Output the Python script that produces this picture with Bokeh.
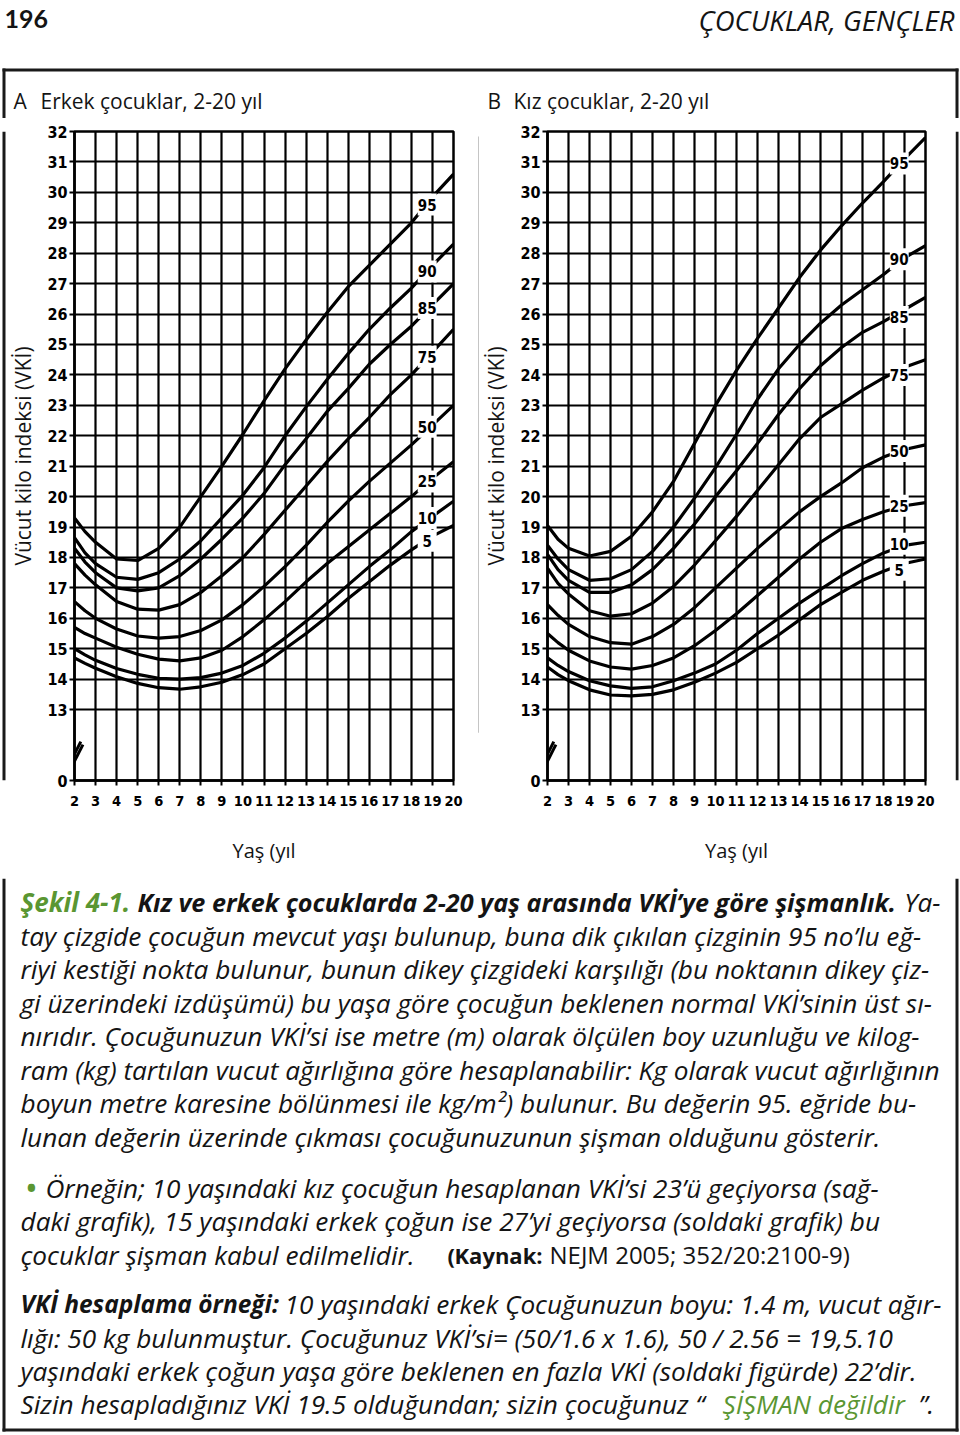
from bokeh.plotting import figure
from bokeh.models import Range1d, FixedTicker, CustomJSTickFormatter
from bokeh.layouts import column, row
from bokeh.embed import file_html
from bokeh.resources import INLINE
from bokeh.core.properties import value

# ---------------- data ----------------
ages = [2, 2.5, 3, 4, 5, 6, 7, 8, 9, 10, 11, 12, 13, 14, 15, 16, 17, 18, 19, 20]
percentiles = ["95", "90", "85", "75", "50", "25", "10", "5"]

boys_p95 = [19.3, 18.85, 18.5, 17.95, 17.9, 18.3, 19.0, 20.0, 21.0, 22.05, 23.15, 24.2, 25.15, 26.05, 26.9, 27.6, 28.3, 29.0, 29.85, 30.6]
boys_p90 = [18.65, 18.15, 17.8, 17.35, 17.28, 17.5, 17.95, 18.55, 19.3, 20.05, 20.95, 22.0, 22.95, 23.85, 24.7, 25.5, 26.2, 26.85, 27.6, 28.3]
boys_p85 = [18.3, 17.85, 17.5, 17.0, 16.9, 17.0, 17.4, 17.95, 18.6, 19.3, 20.1, 21.05, 21.9, 22.8, 23.55, 24.35, 25.0, 25.6, 26.3, 27.0]
boys_p75 = [17.8, 17.42, 17.1, 16.55, 16.3, 16.27, 16.45, 16.85, 17.4, 18.0, 18.75, 19.55, 20.35, 21.15, 21.9, 22.6, 23.35, 24.0, 24.75, 25.5]
boys_p50 = [16.55, 16.25, 16.0, 15.65, 15.42, 15.35, 15.4, 15.6, 15.95, 16.45, 17.05, 17.7, 18.4, 19.15, 19.85, 20.5, 21.1, 21.7, 22.35, 23.0]
boys_p25 = [15.7, 15.5, 15.35, 15.05, 14.82, 14.66, 14.6, 14.7, 14.95, 15.4, 15.95, 16.55, 17.2, 17.8, 18.35, 18.9, 19.45, 20.0, 20.6, 21.15]
boys_p10 = [15.0, 14.8, 14.62, 14.35, 14.16, 14.03, 14.0, 14.05, 14.2, 14.45, 14.85, 15.35, 15.9, 16.5, 17.1, 17.7, 18.25, 18.85, 19.35, 19.85]
boys_p5 = [14.7, 14.52, 14.36, 14.08, 13.86, 13.72, 13.67, 13.75, 13.9, 14.15, 14.5, 15.0, 15.5, 16.05, 16.65, 17.2, 17.75, 18.25, 18.7, 19.05]

girls_p95 = [19.05, 18.6, 18.3, 18.05, 18.2, 18.7, 19.5, 20.5, 21.75, 23.0, 24.15, 25.2, 26.2, 27.2, 28.1, 28.9, 29.65, 30.35, 31.1, 31.8]
girls_p90 = [18.4, 17.95, 17.6, 17.25, 17.3, 17.6, 18.2, 19.0, 19.95, 20.95, 22.05, 23.2, 24.2, 25.0, 25.7, 26.3, 26.8, 27.3, 27.85, 28.25]
girls_p85 = [18.1, 17.6, 17.25, 16.85, 16.85, 17.1, 17.6, 18.3, 19.1, 20.0, 20.85, 21.75, 22.7, 23.55, 24.3, 24.9, 25.4, 25.75, 26.15, 26.55]
girls_p75 = [17.65, 17.15, 16.8, 16.25, 16.07, 16.15, 16.5, 17.05, 17.75, 18.55, 19.35, 20.2, 21.05, 21.9, 22.6, 23.05, 23.5, 23.9, 24.25, 24.5]
girls_p50 = [16.45, 16.1, 15.8, 15.4, 15.2, 15.15, 15.4, 15.8, 16.35, 17.0, 17.65, 18.3, 18.9, 19.5, 20.0, 20.45, 20.95, 21.3, 21.55, 21.7]
girls_p25 = [15.5, 15.2, 14.95, 14.6, 14.4, 14.33, 14.45, 14.7, 15.1, 15.6, 16.15, 16.75, 17.35, 17.95, 18.5, 18.95, 19.25, 19.5, 19.7, 19.8]
girls_p10 = [14.7, 14.45, 14.25, 13.95, 13.78, 13.7, 13.75, 13.95, 14.2, 14.5, 14.95, 15.5, 16.0, 16.5, 16.95, 17.4, 17.8, 18.15, 18.4, 18.5]
girls_p5 = [14.4, 14.15, 13.95, 13.65, 13.48, 13.45, 13.5, 13.65, 13.9, 14.2, 14.55, 15.0, 15.45, 15.95, 16.45, 16.85, 17.25, 17.55, 17.8, 17.95]

boys_label_y = [29.6, 27.4, 26.2, 24.6, 22.3, 20.5, 19.3, 18.55]
girls_label_y = [30.95, 27.8, 25.9, 24.0, 21.5, 19.7, 18.45, 17.6]

x_ticks = list(range(2, 21))
y_ticks = list(range(13, 33))
Y_ZERO = 10.67          # where the broken axis shows "0"
LABEL_X = 18.75

title_a = ["A", "Erkek çocuklar, 2-20 yıl"]
title_b = ["B", "Kız çocuklar, 2-20 yıl"]
y_label = "Vücut kilo indeksi (VKİ)"
x_label = "Yaş (yıl"

# ---------------- styles ----------------
TICK_FONT = "'Liberation Sans Narrow', 'DejaVu Sans Condensed', 'Liberation Sans', sans-serif"
TEXT_FONT = "Open Sans"
INK = "#141414"
GREEN = "#5a9632"


def blank(width, height, xr, yr):
    p = figure(width=width, height=height, x_range=Range1d(*xr), y_range=Range1d(*yr),
               toolbar_location=None, output_backend="svg", min_border=0,
               x_axis_location=None, y_axis_location=None, title=None,
               outline_line_color=None, background_fill_color="white",
               border_fill_color="white")
    p.grid.visible = False
    return p


def make_chart(width, left, right, series, label_y):
    p = figure(width=width, height=760, x_range=Range1d(2, 20), y_range=Range1d(Y_ZERO, 32),
               toolbar_location=None, output_backend="svg", title=None,
               min_border_left=left, min_border_right=right,
               min_border_top=13, min_border_bottom=98,
               background_fill_color="white", border_fill_color="white",
               outline_line_color="black", outline_line_width=2.5, outline_line_alpha=1.0)
    p.xaxis.ticker = FixedTicker(ticks=x_ticks)
    p.yaxis.ticker = FixedTicker(ticks=[Y_ZERO] + y_ticks)
    p.yaxis.formatter = CustomJSTickFormatter(code="return tick < 12 ? '0' : tick.toFixed(0);")
    p.xgrid.ticker = FixedTicker(ticks=x_ticks[1:-1])
    p.ygrid.ticker = FixedTicker(ticks=y_ticks[:-1])
    p.grid.grid_line_color = "black"
    p.grid.grid_line_width = 2.2
    p.grid.grid_line_alpha = 1.0
    for ax in (p.xaxis[0], p.yaxis[0]):
        ax.axis_line_color = "black"
        ax.axis_line_width = 2.5
        ax.major_tick_line_color = "black"
        ax.major_tick_line_width = 2
        ax.major_tick_in = 0
        ax.major_tick_out = 5
        ax.minor_tick_line_color = None
        ax.major_label_text_font = TICK_FONT
        ax.major_label_text_font_style = "bold"
        ax.major_label_text_color = "black"
        ax.axis_label_text_font = TEXT_FONT
        ax.axis_label_text_font_style = "normal"
        ax.axis_label_text_color = INK
    p.xaxis.axis_label_text_font_size = "20px"
    p.yaxis.axis_label_text_font_size = "21px"
    p.xaxis.major_label_text_font_size = "14.5px"
    p.yaxis.major_label_text_font_size = "16px"
    p.xaxis.major_label_standoff = 10
    p.yaxis.major_label_standoff = 2
    p.xaxis.axis_label = x_label
    p.yaxis.axis_label = y_label
    p.xaxis.axis_label_standoff = 28
    p.yaxis.axis_label_standoff = 7

    for s in series:
        p.line(ages, s, line_color="black", line_width=3.2)

    # axis break mark
    p.segment(x0=[1.75, 1.85], y0=[11.2, 11.1], x1=[2.3, 2.4], y1=[11.95, 11.85],
              line_color="black", line_width=3)

    p.rect(x=[LABEL_X] * len(percentiles), y=label_y, width=0.9, height=22,
           height_units="screen", fill_color="white", line_color=None)
    p.text(x=[LABEL_X] * len(percentiles), y=label_y, text=percentiles,
           text_font=value(TICK_FONT), text_font_style="bold", text_font_size="15px",
           text_align="center", text_baseline="middle", text_color="black")
    return p


boys_series = [boys_p95, boys_p90, boys_p85, boys_p75, boys_p50, boys_p25, boys_p10, boys_p5]
girls_series = [girls_p95, girls_p90, girls_p85, girls_p75, girls_p50, girls_p25, girls_p10, girls_p5]

left_chart = make_chart(471, 67, 24, boys_series, boys_label_y)
right_chart = make_chart(476, 66, 30, girls_series, girls_label_y)

# ---------------- header ----------------
hdr = blank(960, 118, (0, 960), (118, 0))
hdr.text(x=[4], y=[18], text=["196"], text_font=value("Lato"), text_font_style="bold",
         text_font_size="25px", text_baseline="middle", text_color=INK)
hdr.text(x=[954], y=[20], text=["ÇOCUKLAR, GENÇLER"], text_font=value(TEXT_FONT),
         text_font_style="italic", text_font_size="27.5px", text_baseline="middle",
         text_align="right", text_color=INK)
hdr.quad(left=[2, 2, 955], right=[958, 5, 958], top=[68, 68, 68], bottom=[71, 118, 118],
         fill_color="#1a1a1a", line_color=None)
hdr.text(x=[13, 40, 487, 513], y=[100] * 4, text=title_a + title_b,
         text_font=value(TEXT_FONT), text_font_size="21px", text_baseline="middle",
         text_color=INK)

spL = blank(6, 760, (0, 6), (878, 118))
spL.quad(left=[2], right=[5], top=[118], bottom=[878], fill_color="#1a1a1a", line_color=None)
sep = blank(2, 760, (477, 479), (878, 118))
sep.quad(left=[478], right=[479], top=[124], bottom=[822], fill_color="#8c8c8c", line_color=None)
spR = blank(5, 760, (955, 960), (878, 118))
spR.quad(left=[955], right=[958], top=[118], bottom=[878], fill_color="#1a1a1a", line_color=None)

# ---------------- text block ----------------
tf = blank(960, 557, (0, 960), (1435, 878))
tf.quad(left=[2, 955, 2], right=[5, 958, 958], top=[878, 878, 1428], bottom=[1431, 1431, 1431],
        fill_color="#1a1a1a", line_color=None)

BODY = "26.2px"
caption_lines = [
    "tay çizgide çocuğun mevcut yaşı bulunup, buna dik çıkılan çizginin 95 no’lu eğ-",
    "riyi kestiği nokta bulunur, bunun dikey çizgideki karşılığı (bu noktanın dikey çiz-",
    "gi üzerindeki izdüşümü) bu yaşa göre çocuğun beklenen normal VKİ’sinin üst sı-",
    "nırıdır. Çocuğunuzun VKİ’si ise metre (m) olarak ölçülen boy uzunluğu ve kilog-",
    "ram (kg) tartılan vucut ağırlığına göre hesaplanabilir: Kg olarak vucut ağırlığının",
    "boyun metre karesine bölünmesi ile kg/m²) bulunur. Bu değerin 95. eğride bu-",
    "lunan değerin üzerinde çıkması çocuğunuzunun şişman olduğunu gösterir.",
]
caption_y = [935, 968, 1002, 1035, 1069, 1102, 1136]
example_lines = [
    "Örneğin; 10 yaşındaki kız çocuğun hesaplanan VKİ’si 23’ü geçiyorsa (sağ-",
    "daki grafik), 15 yaşındaki erkek çoğun ise 27’yi geçiyorsa (soldaki grafik) bu",
    "çocuklar şişman kabul edilmelidir.",
]
example_x = [45, 20, 20]
example_y = [1187, 1220, 1254]
calc_lines = [
    "lığı: 50 kg bulunmuştur. Çocuğunuz VKİ’si= (50/1.6 x 1.6), 50 / 2.56 = 19,5.10",
    "yaşındaki erkek çoğun yaşa göre beklenen en fazla VKİ (soldaki figürde) 22’dir.",
    "Sizin hesapladığınız VKİ 19.5 olduğundan; sizin çocuğunuz “",
]
calc_y = [1337, 1370, 1403]


def txt(x, y, t, style="italic", color=INK, size=BODY, align="left"):
    tf.text(x=x, y=y, text=t, text_font=value(TEXT_FONT), text_font_style=style,
            text_font_size=size, text_baseline="middle", text_align=align, text_color=color)


# line 1
txt([20], [901], ["Şekil 4-1."], style="bold italic", color=GREEN, size="26px")
txt([137], [901], ["Kız ve erkek çocuklarda 2-20 yaş arasında VKİ’ye göre şişmanlık."],
    style="bold italic", size="25.2px")
txt([940], [901], ["Ya-"], align="right")
txt([20] * len(caption_lines), caption_y, caption_lines)
# bullet paragraph
txt([26], [1187], ["•"], style="bold", color=GREEN)
txt(example_x, example_y, example_lines)
tf.text(x=[447, 454], y=[1254] * 2, text=["(", "Kaynak:"],
        text_font=value(TEXT_FONT), text_font_style="bold",
        text_font_size="22px", text_baseline="middle", text_color=INK)
tf.text(x=[549], y=[1254], text=["NEJM 2005; 352/20:2100-9)"],
        text_font=value(TEXT_FONT), text_font_style="normal",
        text_font_size="24px", text_baseline="middle", text_color=INK)
# calculation paragraph
txt([20], [1303], ["VKİ hesaplama örneği:"], style="bold italic", size="24.5px")
txt([284], [1303], ["10 yaşındaki erkek Çocuğunuzun boyu: 1.4 m, vucut ağır-"])
txt([20] * len(calc_lines), calc_y, calc_lines)
txt([722], [1403], ["ŞİŞMAN değildir"], color=GREEN)
txt([918], [1403], ["”."])

layout = column(hdr, row(spL, left_chart, sep, right_chart, spR), tf)

html = file_html(layout, INLINE, "BMI charts")
with open("out.html", "w") as f:
    f.write(html)
